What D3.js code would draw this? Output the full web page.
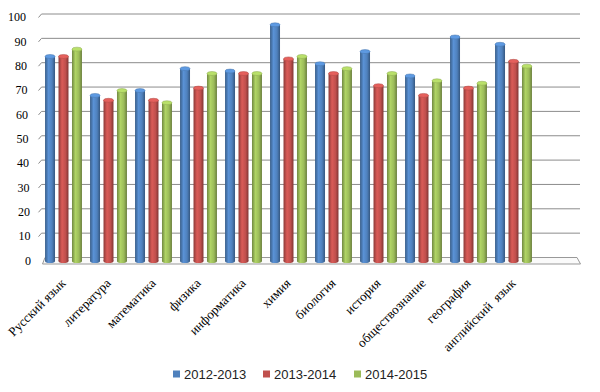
<!DOCTYPE html>
<head>
  <meta charset="utf-8">
  <style>
    body { margin: 0; background: #fff; }
    svg text.ytick { font-family: "Liberation Serif", serif; font-size: 12px; }
    svg text.xlab { font-family: "Liberation Serif", serif; font-size: 13px; white-space: pre; }
    svg text.leg { font-family: "Liberation Sans", sans-serif; font-size: 13px; }
  </style>
</head>
<body>
  <svg width="600" height="392" id="chart"></svg>
  <script src="https://d3js.org/d3.v7.min.js"></script>
  <script>
    const subjects = ["Русский язык", "литература", "математика", "физика", "информатика",
                      "химия", "биология", "история", "обществознание", "география", "английский  язык"];
    const years = ["2012-2013", "2013-2014", "2014-2015"];
    const s2012 = [84, 68, 70, 79, 78, 97, 81, 86, 76, 92, 89];
    const s2013 = [84, 66, 66, 71, 77, 83, 77, 72, 68, 71, 82];
    const s2014 = [87, 70, 65, 77, 77, 84, 79, 77, 74, 73, 80];
    const yTicks = [0, 10, 20, 30, 40, 50, 60, 70, 80, 90, 100];
    const colors = ["#4F81BD", "#C0504D", "#9BBB59"];

    const series = [s2012, s2013, s2014];
    const svg = d3.select("#chart");

    // wall scale and a slightly lower one for the bars (they stand in front of the wall)
    const y = d3.scaleLinear().domain([0, 100]).range([257.5, 14]);
    const yBar = d3.scaleLinear().domain([0, 100]).range([261, 17.5]);

    const x = d3.scaleBand().domain(subjects).range([41, 536])
        .paddingInner(0.18).paddingOuter(0.09);
    const xs = d3.scaleBand().domain(years).range([0, x.bandwidth()])
        .paddingInner(0.26);

    // gradients for the cylinders
    const defs = svg.append("defs");
    colors.forEach((c, i) => {
      const g = defs.append("linearGradient").attr("id", "g" + i)
          .attr("x1", 0).attr("x2", 1).attr("y1", 0).attr("y2", 0);
      const base = d3.color(c);
      g.append("stop").attr("offset", "0%").attr("stop-color", base.darker(0.9));
      g.append("stop").attr("offset", "35%").attr("stop-color", base.brighter(0.35));
      g.append("stop").attr("offset", "70%").attr("stop-color", base);
      g.append("stop").attr("offset", "100%").attr("stop-color", base.darker(1.1));
    });

    // floor
    svg.append("polygon")
        .attr("points", [[45, y(0)], [577, y(0)], [580.5, 264], [42.5, 264]].join(" "))
        .attr("fill", "#fafafa").attr("stroke", "#999").attr("stroke-width", 1);

    // gridlines
    svg.append("g").selectAll("polyline")
      .data(yTicks.filter(d => d > 0))
      .join("polyline")
        .attr("points", d => [[38.5, y(d) + 3.5], [41.5, y(d)], [580, y(d)]].join(" "))
        .attr("fill", "none").attr("stroke", "#8c8c8c").attr("stroke-width", 1);

    // y labels
    svg.append("g").selectAll("text")
      .data(yTicks)
      .join("text")
        .attr("class", "ytick")
        .attr("x", d => 26 + 5 * (1 - d / 100))
        .attr("y", d => y(d) + 3)
        .attr("dy", "0.35em")
        .attr("text-anchor", "end")
        .text(d => d);

    // bars
    const groups = svg.append("g").selectAll("g")
      .data(subjects)
      .join("g")
        .attr("transform", d => `translate(${x(d)},0)`);

    groups.each(function(subj, si) {
      const g = d3.select(this);
      years.forEach((yr, k) => {
        const v = series[k][si];
        const bx = xs(yr), bw = xs.bandwidth();
        g.append("ellipse")
            .attr("cx", bx + bw / 2).attr("cy", yBar(0))
            .attr("rx", bw / 2).attr("ry", 2)
            .attr("fill", `url(#g${k})`);
        g.append("rect")
            .attr("x", bx).attr("width", bw)
            .attr("y", yBar(v)).attr("height", yBar(0) - yBar(v))
            .attr("fill", `url(#g${k})`);
        g.append("ellipse")
            .attr("cx", bx + bw / 2).attr("cy", yBar(v))
            .attr("rx", bw / 2).attr("ry", 2)
            .attr("fill", d3.color(colors[k]).brighter(0.5))
            .attr("stroke", d3.color(colors[k]).darker(0.3)).attr("stroke-width", 0.5);
      });
    });

    // x labels
    svg.append("g").selectAll("text")
      .data(subjects)
      .join("text")
        .attr("class", "xlab")
        .attr("transform", d => `translate(${x(d) + x.bandwidth() / 2 + 3},${284}) rotate(-45)`)
        .attr("text-anchor", "end")
        .text(d => d);

    // legend
    const legX = [173, 263, 354];
    const leg = svg.append("g").selectAll("g")
      .data(years)
      .join("g")
        .attr("transform", (d, i) => `translate(${legX[i]},374)`);
    leg.append("rect").attr("x", 0).attr("y", -3.5).attr("width", 7).attr("height", 7)
        .attr("fill", (d, i) => colors[i]);
    leg.append("text").attr("class", "leg").attr("x", 11).attr("dy", "0.35em")
        .attr("fill", "#222").text(d => d);
  </script>
</body>
